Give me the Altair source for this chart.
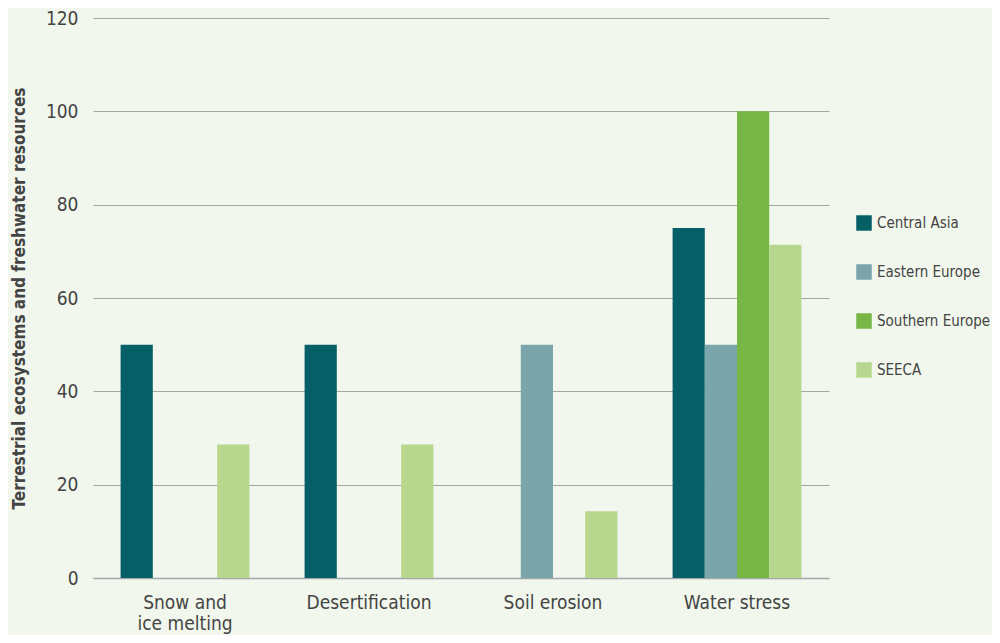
import altair as alt
import pandas as pd

categories = ["Snow and ice melting", "Desertification", "Soil erosion", "Water stress"]
series = ["Central Asia", "Eastern Europe", "Southern Europe", "SEECA"]
colors = ["#055f66", "#7aa5ab", "#78b646", "#b6d78d"]
central_asia = [50, 50, None, 75]
eastern_europe = [None, None, 50, 50]
southern_europe = [None, None, None, 100]
seeca = [28.6, 28.6, 14.3, 71.4]

rows = []
for s, vals in zip(series, [central_asia, eastern_europe, southern_europe, seeca]):
    for c, v in zip(categories, vals):
        if v is not None:
            rows.append({"category": c, "series": s, "value": v})
df = pd.DataFrame(rows)

FONT = "'DejaVu Sans Condensed', 'DejaVu Sans', sans-serif"
TXT = "#444444"

chart = alt.Chart(df).mark_bar().encode(
    x=alt.X("category:N", sort=categories,
            scale=alt.Scale(domain=categories, paddingInner=0.3, paddingOuter=0.15),
            axis=alt.Axis(title=None, labelAngle=0, ticks=False, grid=False,
                          domainColor="#a3a7aa", domainWidth=1.5,
                          labelFont=FONT, labelFontSize=19, labelColor=TXT,
                          labelPadding=15, labelLineHeight=21,
                          labelExpr="datum.value == 'Snow and ice melting' ? ['Snow and    ', 'ice melting'] : datum.value")),
    xOffset=alt.XOffset("series:N", sort=series, scale=alt.Scale(domain=series, paddingInner=0, paddingOuter=0)),
    y=alt.Y("value:Q", scale=alt.Scale(domain=[0, 120], nice=False),
            axis=alt.Axis(title="Terrestrial ecosystems and freshwater resources",
                          values=[0, 20, 40, 60, 80, 100, 120], ticks=False, domain=False,
                          gridColor="#a3a7aa", gridWidth=1.2,
                          labelFont=FONT, labelFontSize=19, labelColor=TXT, labelPadding=15,
                          titleFont=FONT, titleFontSize=17, titleFontWeight="bold", titleColor=TXT,
                          titlePadding=17)),
    color=alt.Color("series:N", sort=series,
                    scale=alt.Scale(domain=series, range=colors),
                    legend=alt.Legend(title=None, orient="none", legendX=763, legendY=197,
                                      symbolType="square", symbolSize=240, symbolStrokeWidth=0,
                                      labelFont=FONT, labelFontSize=15, labelColor=TXT,
                                      rowPadding=33, labelOffset=5)),
).properties(
    width=736, height=560,
    background="#f1f7ec",
    padding={"left": 85, "top": 10, "right": 163, "bottom": 57},
    autosize=alt.AutoSizeParams(type="none"),
).configure_view(stroke=None)

chart.save("out.html", embed_options={"renderer": "svg", "actions": False})
